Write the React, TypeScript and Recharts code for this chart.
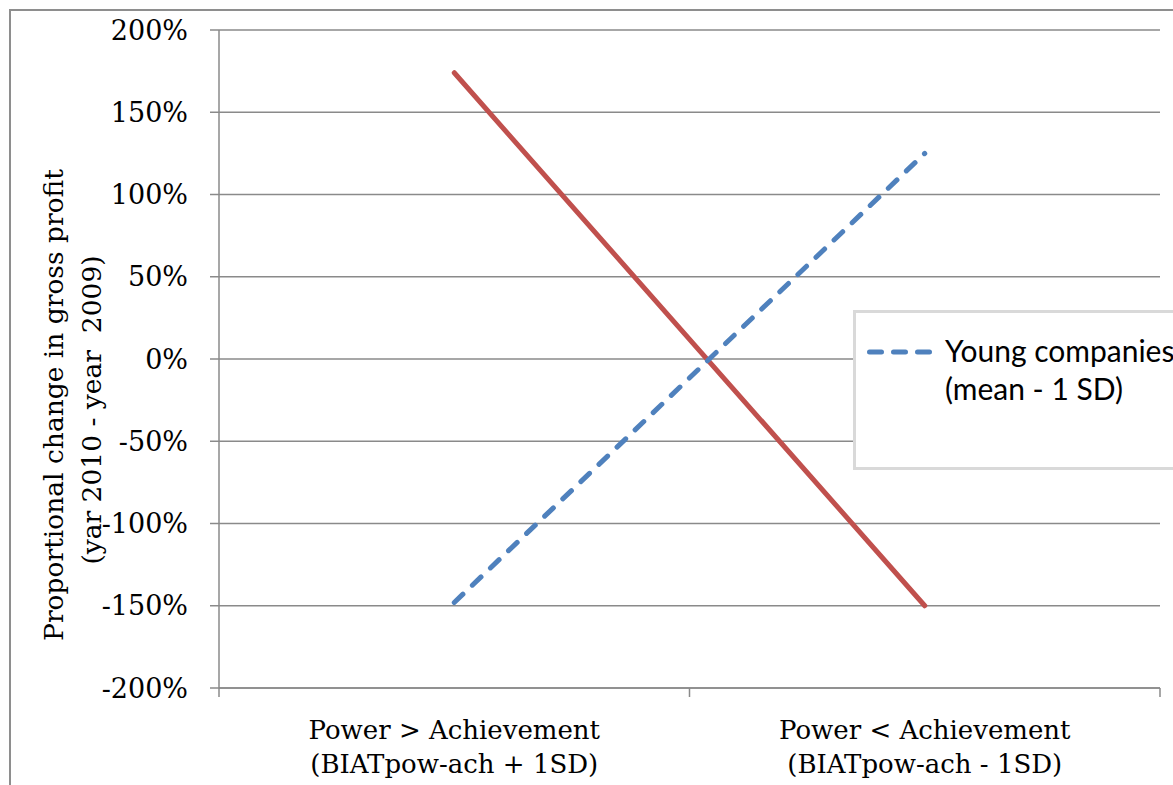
import { LineChart, Line, XAxis, YAxis, CartesianGrid, Legend } from "recharts";

// Data
const categories = [
  ["Power > Achievement", "(BIATpow-ach + 1SD)"],
  ["Power < Achievement", "(BIATpow-ach - 1SD)"],
];
const categoryPositions = [0.5, 1.5];
const boundaryTicks = [0, 1, 2];
const youngValues = [-148, 125];
const oldValues = [174, -150];
const yTicks = [-200, -150, -100, -50, 0, 50, 100, 150, 200];
const yLabelLines = ["Proportional change in gross profit", "(yar 2010 - year  2009)"];
const legendLines = ["Young companies", "(mean - 1 SD)"];

const chartData = categoryPositions.map((x, i) => ({
  x,
  young: youngValues[i],
  old: oldValues[i],
}));

const SERIF = "'DejaVu Serif', serif";
const GRID = "#8a8a8a";
const BLUE = "#4F81BD";
const RED = "#C0504D";

function XTick({ x, y, payload }: any) {
  const v = payload.value;
  if (boundaryTicks.includes(v)) {
    return <line x1={x} x2={x} y1={y} y2={y + 9} stroke={GRID} strokeWidth={1.5} />;
  }
  const lines = categories[categoryPositions.indexOf(v)];
  if (!lines) return null;
  return (
    <text textAnchor="middle" fontFamily={SERIF} fontSize={26} fill="#000">
      <tspan x={x} y={y + 51}>{lines[0]}</tspan>
      <tspan x={x} y={y + 85}>{lines[1]}</tspan>
    </text>
  );
}

function YLabel({ viewBox }: any) {
  const cy = viewBox.y + viewBox.height / 2;
  const y1 = cy + 46;
  const y2 = cy + 51;
  return (
    <g fontFamily={SERIF} fontSize={26.5} fill="#000">
      <text x={63} y={y1} textAnchor="middle" transform={`rotate(-90, 63, ${y1})`}>
        {yLabelLines[0]}
      </text>
      <text
        x={101}
        y={y2}
        textAnchor="middle"
        transform={`rotate(-90, 101, ${y2})`}
        style={{ whiteSpace: "pre" }}
      >
        {yLabelLines[1]}
      </text>
    </g>
  );
}

function LegendBox() {
  return (
    <div
      style={{
        boxSizing: "border-box",
        width: 400,
        height: 160,
        border: "3px solid #d9d9d9",
        background: "#fff",
        position: "relative",
      }}
    >
      <svg width={100} height={80} style={{ position: "absolute", left: 0, top: 0 }}>
        <line
          x1={13.5}
          x2={73.5}
          y1={39}
          y2={39}
          stroke={BLUE}
          strokeWidth={5}
          strokeDasharray="12 12"
          strokeLinecap="round"
        />
      </svg>
      <div
        style={{
          position: "absolute",
          left: 89,
          top: 18,
          fontFamily: "Lato, sans-serif",
          fontSize: 30,
          lineHeight: "38px",
          color: "#000",
          whiteSpace: "nowrap",
        }}
      >
        {legendLines[0]}
        <br />
        {legendLines[1]}
      </div>
    </div>
  );
}

export default function App() {
  return (
    <div
      style={{
        position: "absolute",
        left: 0,
        top: 0,
        width: 1173,
        height: 785,
        overflow: "hidden",
        background: "#fff",
      }}
    >
      <div
        style={{
          position: "absolute",
          left: 9,
          top: 9,
          width: 2000,
          height: 2000,
          border: "2px solid #8e8e8e",
        }}
      />
      <LineChart
        width={1173}
        height={785}
        data={chartData}
        margin={{ top: 30, right: 13, bottom: 0, left: 0 }}
      >
        <CartesianGrid vertical={false} stroke={GRID} strokeWidth={1.5} />
        <XAxis
          dataKey="x"
          type="number"
          domain={[0, 2]}
          ticks={[0, 0.5, 1, 1.5, 2]}
          interval={0}
          tickLine={false}
          tickSize={0}
          tickMargin={0}
          height={97}
          axisLine={{ stroke: GRID, strokeWidth: 1.5 }}
          tick={<XTick />}
        />
        <YAxis
          domain={[-200, 200]}
          ticks={yTicks}
          interval={0}
          width={219}
          tickSize={9}
          tickMargin={22}
          tickFormatter={(v) => `${v}%`}
          tick={{ fill: "#000", fontSize: 27, fontFamily: SERIF }}
          tickLine={{ stroke: GRID, strokeWidth: 1.5 }}
          axisLine={{ stroke: GRID, strokeWidth: 1.5 }}
          label={<YLabel />}
        />
        <Legend
          layout="horizontal"
          verticalAlign="middle"
          align="center"
          wrapperStyle={{ position: "absolute", left: 853, top: 310, width: 400, height: 160 }}
          content={() => <LegendBox />}
        />
        <Line
          type="linear"
          dataKey="old"
          name="Old companies"
          stroke={RED}
          strokeWidth={5}
          strokeLinecap="round"
          dot={false}
          activeDot={false}
          isAnimationActive={false}
        />
        <Line
          type="linear"
          dataKey="young"
          name="Young companies (mean - 1 SD)"
          stroke={BLUE}
          strokeWidth={5}
          strokeDasharray="12 13"
          strokeLinecap="round"
          dot={false}
          activeDot={false}
          isAnimationActive={false}
        />
      </LineChart>
    </div>
  );
}
